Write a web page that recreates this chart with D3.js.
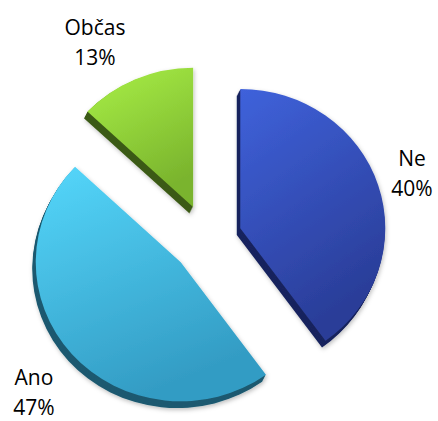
<!DOCTYPE html>
<html>
<head>
<meta charset="utf-8">
<script src="https://cdn.jsdelivr.net/npm/d3@7.9.0/dist/d3.min.js"></script>
<style>
  body { margin: 0; background: #fff; }
  svg { display: block; }
  text { font-family: "Open Sans", "DejaVu Sans", sans-serif; font-size: 21px; fill: #000; }
</style>
</head>
<body>
<div id="chart"></div>
<script>
// data
const categories = ['Ne', 'Ano', 'Občas'];
const values     = [40, 47, 13];
const pctLabels  = ['40%', '47%', '13%'];

// style
const W = 438, H = 421;
const center = {x: 207, y: 239};
const R = 145, squash = 0.96, explode = 35, depth = 7;
const faceTop    = {'Ne': '#3f62db', 'Ano': '#55d7fb', 'Občas': '#a9f047'};
const faceBottom = {'Ne': '#2a3d98', 'Ano': '#339cc4', 'Občas': '#7ab42d'};
const sideCol    = {'Ne': '#1a255e', 'Ano': '#1c5a70', 'Občas': '#3b5a14'};
const labelAt    = {'Ne': [412, 166], 'Ano': [34, 385], 'Občas': [95, 35]};

const svg = d3.select('#chart').append('svg')
  .attr('width', W).attr('height', H);

const defs = svg.append('defs');
const shadow = defs.append('filter').attr('id', 'shadow')
  .attr('x', '-20%').attr('y', '-20%').attr('width', '140%').attr('height', '140%');
shadow.append('feDropShadow')
  .attr('dx', 1).attr('dy', 2).attr('stdDeviation', 2)
  .attr('flood-color', '#000').attr('flood-opacity', 0.25);

categories.forEach((c, i) => {
  const g = defs.append('linearGradient').attr('id', `grad${i}`)
    .attr('x1', '0%').attr('y1', '0%').attr('x2', '40%').attr('y2', '100%');
  g.append('stop').attr('offset', '0%').attr('stop-color', faceTop[c]);
  g.append('stop').attr('offset', '100%').attr('stop-color', faceBottom[c]);
});

const pie = d3.pie().sort(null).value(d => d.value);
const arcs = pie(categories.map((c, i) => ({cat: c, value: values[i], pct: pctLabels[i], i})));
const arc = d3.arc().innerRadius(0).outerRadius(R);

const slices = svg.append('g').selectAll('g.slice')
  .data(arcs)
  .join('g')
    .attr('class', 'slice')
    .attr('filter', 'url(#shadow)')
    .attr('transform', d => {
      const mid = (d.startAngle + d.endAngle) / 2;
      const ax = center.x + explode * Math.sin(mid);
      const ay = center.y - explode * Math.cos(mid);
      return `translate(${ax},${ay}) scale(1,${squash})`;
    });

// extruded side: stacked copies shifted down-left
d3.range(depth, 0, -1).forEach(k => {
  slices.append('path')
    .attr('d', arc)
    .attr('transform', `translate(${-k * 0.5},${k})`)
    .attr('fill', d => sideCol[d.data.cat]);
});

slices.append('path')
  .attr('d', arc)
  .attr('fill', d => `url(#grad${d.data.i})`);

// labels
const labels = svg.append('g').selectAll('text')
  .data(arcs)
  .join('text')
    .attr('text-anchor', 'middle')
    .attr('x', d => labelAt[d.data.cat][0])
    .attr('y', d => labelAt[d.data.cat][1]);
labels.append('tspan').text(d => d.data.cat);
labels.append('tspan')
  .attr('x', d => labelAt[d.data.cat][0])
  .attr('dy', 30)
  .text(d => d.data.pct);
</script>
</body>
</html>
